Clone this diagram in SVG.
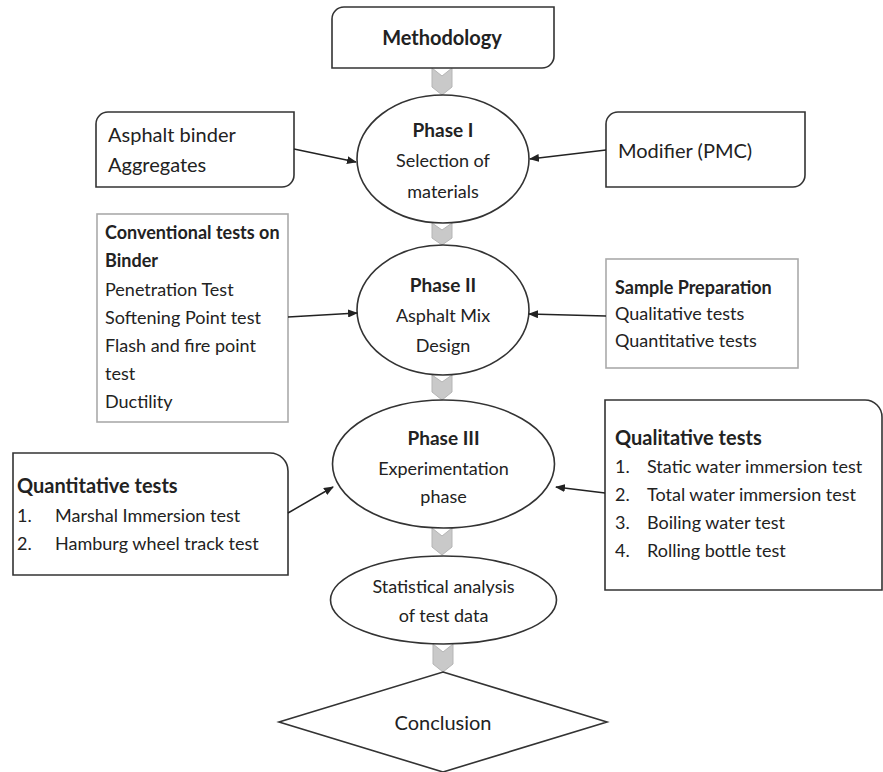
<svg xmlns="http://www.w3.org/2000/svg" width="883" height="772" viewBox="0 0 883 772">
<defs>
<marker id="ah" markerWidth="10" markerHeight="8" refX="9" refY="4" orient="auto" markerUnits="userSpaceOnUse">
<path d="M0,0 L10,4 L0,8 Z" fill="#222"/>
</marker>
</defs>
<style>
text{font-family:Lato,"Liberation Sans",sans-serif;fill:#222;font-size:18px}
.b{font-weight:bold}
.c{text-anchor:middle}
.t{font-size:19px}
.big{font-size:20px}
.shape{fill:#fff;stroke:#333;stroke-width:1.6}
.light{fill:#fff;stroke:#aaa;stroke-width:1.6}
.chev{fill:#c9c9c9;stroke:#b5b5b5;stroke-width:1}
.con{fill:none;stroke:#222;stroke-width:1.5;marker-end:url(#ah)}
</style>
<rect width="883" height="772" fill="#fff"/>
<g id="chevrons">
<path class="chev" d="M432,68 L442,76 L452,68 V87 L442,95 L432,87 Z"/>
<path class="chev" d="M432,223 L442,230 L452,223 V238 L442,245 L432,238 Z"/>
<path class="chev" d="M432,375 L442,382 L452,375 V392 L442,400 L432,392 Z"/>
<path class="chev" d="M432,528 L442,536 L452,528 V547 L442,555 L432,547 Z"/>
<path class="chev" d="M433,644 L443,652 L453,644 V664 L443,672 L433,664 Z"/>
</g>
<g id="methodology">
<path class="shape" d="M332,19 A12,12 0 0 1 344,7 H554 V56 A12,12 0 0 1 542,68 H332 Z"/>
<text class="b c big" x="442" y="45">Methodology</text>
</g>
<g id="phase1">
<ellipse class="shape" cx="443" cy="159" rx="86" ry="64"/>
<text class="b c t" x="443" y="137">Phase I</text>
<text class="c" x="443" y="167">Selection of</text>
<text class="c" x="443" y="198">materials</text>
</g>
<g id="binder">
<path class="shape" d="M96,124 A12,12 0 0 1 108,112 H294 V175 A12,12 0 0 1 282,187 H96 Z"/>
<text class="big" x="108" y="142">Asphalt binder</text>
<text class="big" x="108" y="172">Aggregates</text>
</g>
<g id="modifier">
<path class="shape" d="M606,124 A12,12 0 0 1 618,112 H805 V175 A12,12 0 0 1 793,187 H606 Z"/>
<text class="big" x="618" y="158">Modifier (PMC)</text>
</g>
<g id="phase2">
<ellipse class="shape" cx="443" cy="310" rx="86" ry="65"/>
<text class="b c t" x="443" y="292">Phase II</text>
<text class="c" x="443" y="322">Asphalt Mix</text>
<text class="c" x="443" y="352">Design</text>
</g>
<g id="conventional">
<rect class="light" x="97" y="214" width="191" height="208"/>
<text class="b" x="105" y="239">Conventional tests on</text>
<text class="b" x="105" y="267">Binder</text>
<text x="105" y="296">Penetration Test</text>
<text x="105" y="324">Softening Point test</text>
<text x="105" y="352">Flash and fire point</text>
<text x="105" y="380">test</text>
<text x="105" y="408">Ductility</text>
</g>
<g id="sample">
<rect class="light" x="606" y="259" width="192" height="109"/>
<text class="b" x="615" y="294">Sample Preparation</text>
<text x="615" y="320">Qualitative tests</text>
<text x="615" y="347">Quantitative tests</text>
</g>
<g id="phase3">
<ellipse class="shape" cx="443.5" cy="464" rx="111" ry="64"/>
<text class="b c t" x="443.5" y="445">Phase III</text>
<text class="c" x="443.5" y="475">Experimentation</text>
<text class="c" x="443.5" y="503">phase</text>
</g>
<g id="quantitative">
<path class="shape" d="M13,453 H270 A18,18 0 0 1 288,471 V575 H13 Z"/>
<text class="b big" x="17" y="493">Quantitative tests</text>
<text x="17" y="522">1.</text>
<text x="55" y="522">Marshal Immersion test</text>
<text x="17" y="550">2.</text>
<text x="55" y="550">Hamburg wheel track test</text>
</g>
<g id="qualitative">
<path class="shape" d="M605,400 H865 A17,17 0 0 1 882,417 V590 H605 Z"/>
<text class="b big" x="615" y="445">Qualitative tests</text>
<text x="615" y="473">1.</text>
<text x="647" y="473">Static water immersion test</text>
<text x="615" y="501">2.</text>
<text x="647" y="501">Total water immersion test</text>
<text x="615" y="529">3.</text>
<text x="647" y="529">Boiling water test</text>
<text x="615" y="557">4.</text>
<text x="647" y="557">Rolling bottle test</text>
</g>
<g id="statistical">
<ellipse class="shape" cx="443.5" cy="600" rx="113" ry="44"/>
<text class="c" x="443.5" y="593">Statistical analysis</text>
<text class="c" x="443.5" y="622">of test data</text>
</g>
<g id="conclusion">
<path class="shape" d="M443,672 L607,722 L443,772 L279,722 Z"/>
<text class="c big" x="443" y="730">Conclusion</text>
</g>
<g id="connectors">
<line class="con" x1="294" y1="149" x2="356" y2="162"/>
<line class="con" x1="606" y1="150" x2="530" y2="159"/>
<line class="con" x1="288" y1="317" x2="357" y2="313"/>
<line class="con" x1="606" y1="316" x2="529" y2="314"/>
<line class="con" x1="288" y1="513" x2="333" y2="487"/>
<line class="con" x1="605" y1="493" x2="556" y2="487"/>
</g>
</svg>
